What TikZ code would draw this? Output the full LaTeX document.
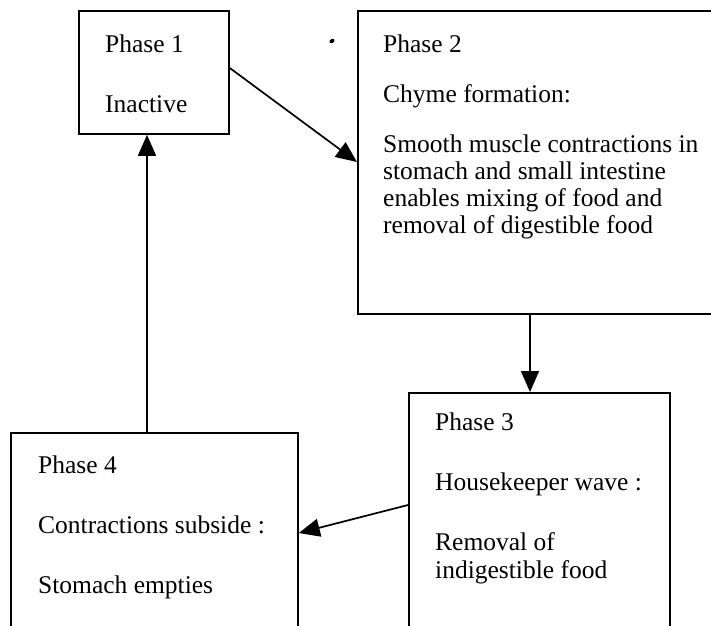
\documentclass[tikz,border=0pt]{standalone}
\usepackage{fontspec}
\setmainfont{Liberation Serif}
\usetikzlibrary{arrows.meta,calc}
\begin{document}
\begin{tikzpicture}[x=1pt,y=-1pt,
  box/.style={draw, line width=1.8pt, rectangle, inner sep=0pt, anchor=north west},
  txt/.style={anchor=base west, inner sep=0pt, font=\fontsize{25.5}{28}\selectfont},
  conn/.style={line width=1.7pt, -{Triangle[length=21pt,width=18pt]}}]
\useasboundingbox (0,0) rectangle (711,625);
\clip (0,0) rectangle (711,625);
% boxes
\node[box, minimum width=150pt, minimum height=123pt] (p1) at (78,10) {};
\node[box, minimum width=380pt, minimum height=303pt] (p2) at (357,10) {};
\node[box, minimum width=261pt, minimum height=300pt] (p3) at (408,392) {};
\node[box, minimum width=287pt, minimum height=300pt] (p4) at (10,432) {};
% texts
\node[txt] (t1a) at (105,52) {Phase 1};
\node[txt] (t1b) at (105,112) {Inactive};
\node[txt] (t2a) at (383,52) {Phase 2};
\node[txt] (t2b) at (383,102) {Chyme formation:};
\node[txt] (t2c) at (383,152) {Smooth muscle contractions in};
\node[txt] (t2d) at (383,179) {stomach and small intestine};
\node[txt] (t2e) at (383,206) {enables mixing of food and};
\node[txt] (t2f) at (383,233) {removal of digestible food};
\node[txt] (t3a) at (435,430) {Phase 3};
\node[txt] (t3b) at (435,490) {Housekeeper wave :};
\node[txt] (t3c) at (435,550) {Removal of};
\node[txt] (t3d) at (435,578) {indigestible food};
\node[txt] (t4a) at (38,473) {Phase 4};
\node[txt] (t4b) at (38,533) {Contractions subside :};
\node[txt] (t4c) at (38,593) {Stomach empties};
% connectors
\coordinate (c1s) at ($(p1.north east)+(0,58)$);
\coordinate (c1e) at ($(p2.north west)+(0,152)$);
\coordinate (c2s) at ($(p2.south west)+(173,0)$);
\coordinate (c2e) at ($(p3.north west)+(122,0)$);
\coordinate (c3s) at ($(p3.north west)+(0,113)$);
\coordinate (c3e) at ($(p4.north east)+(0,101)$);
\coordinate (c4s) at ($(p4.north west)+(137,0)$);
\coordinate (c4e) at ($(p1.south west)+(69,0)$);
\draw[conn] (c1s) -- (c1e);
\draw[conn] (c2s) -- (c2e);
\draw[conn] (c3s) -- (c3e);
\draw[conn] (c4s) -- (c4e);
% stray dot
\fill[rotate around={30:(332,41)}] (332,41) ellipse (2.8pt and 2pt);
\end{tikzpicture}
\end{document}
